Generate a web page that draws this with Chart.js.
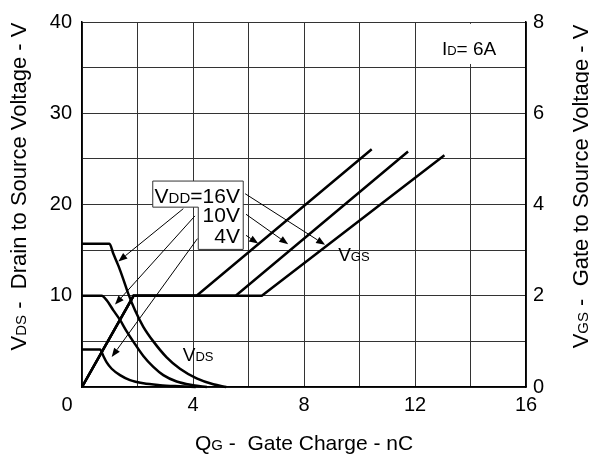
<!DOCTYPE html>
<html>
<head>
<meta charset="utf-8">
<title>Gate Charge</title>
<script src="https://cdn.jsdelivr.net/npm/chart.js@4.4.1/dist/chart.umd.min.js"></script>
<style>
  html, body { margin: 0; padding: 0; background: #fff; }
  #wrap { width: 589px; height: 458px; position: relative; }
</style>
</head>
<body>
<div id="wrap"><canvas id="qgChart"></canvas></div>
<script>
/* =========================
   DATA
========================= */
const qgTicks = [0, 4, 8, 12, 16];
const vdsTicks = [10, 20, 30, 40];
const vgsTicks = [0, 2, 4, 6, 8];

// VDS vs Qg, per VDD
const qgVds16 = [0, 0.99, 1.13, 1.31, 1.49, 1.67, 1.91, 2.21, 2.57, 3.05, 3.53, 4.13, 4.73, 5.2];
const vds16   = [15.7, 15.7, 14.6, 13.3, 11.8, 10.2, 8.4, 6.6, 5.0, 3.25, 2.0, 0.95, 0.3, 0];
const qgVds10 = [0, 0.71, 0.89, 1.13, 1.37, 1.61, 1.91, 2.21, 2.57, 2.93, 3.41, 4.0, 4.5];
const vds10   = [10, 10, 9.5, 8.4, 7.35, 6.1, 4.7, 3.4, 2.2, 1.3, 0.6, 0.2, 0];
const qgVds4  = [0, 0.65, 0.77, 0.89, 1.07, 1.37, 1.73, 2.21, 2.81, 3.5, 4.1];
const vds4    = [4.1, 4.1, 3.4, 2.7, 2.0, 1.3, 0.75, 0.4, 0.2, 0.08, 0];

// VGS vs Qg, per VDD (right axis)
const qgVgs4  = [0, 1.86, 4.13, 10.44];
const vgs4    = [0, 2, 2, 5.21];
const qgVgs10 = [0, 1.86, 5.54, 11.75];
const vgs10   = [0, 2, 2, 5.16];
const qgVgs16 = [0, 1.86, 6.48, 13.06];
const vgs16   = [0, 2, 2, 5.08];

/* =========================
   NOTES (positions in data units, left axis)
========================= */
const notes = {
  idBox: [12.5, 35.4, 15.7, 39.8],
  idText: [12.97, 36.4],
  legendBox: [[2.55, 22.57], [5.81, 22.57], [5.81, 15.08], [4.19, 15.08], [4.19, 19.71], [2.55, 19.71]],
  legendRight: 5.69,
  legendRows: [20.18, 18.04, 15.83],
  vgsArrows: [[5.88, 21.18, 8.76, 15.58], [5.91, 18.93, 7.43, 15.65], [5.91, 16.62, 6.35, 15.72]],
  vdsArrows: [[3.65, 19.54, 1.31, 13.76], [4.07, 18.75, 1.19, 9.03], [4.16, 16.26, 1.07, 3.29]],
  vgsLabel: [9.23, 13.8],
  vdsLabel: [3.63, 2.8]
};

const FONT = '"Liberation Sans", Arial, sans-serif';

const pts = (xs, ys) => xs.map((x, i) => ({ x: x, y: ys[i] }));

function line(data, axis, smooth) {
  return {
    data: data,
    yAxisID: axis,
    showLine: true,
    borderColor: '#000',
    borderWidth: 2.5,
    pointRadius: 0,
    fill: false,
    clip: 3,
    cubicInterpolationMode: smooth ? 'monotone' : 'default'
  };
}

// text with subscript pieces: [[text, isSub], ...]
function subText(ctx, parts, x, y, size, align) {
  const subSize = Math.round(size * 0.7);
  let w = 0;
  parts.forEach(([t, s]) => {
    ctx.font = (s ? subSize : size) + 'px ' + FONT;
    w += ctx.measureText(t).width;
  });
  let cx = align === 'center' ? x - w / 2 : align === 'right' ? x - w : x;
  ctx.textAlign = 'left';
  ctx.textBaseline = 'alphabetic';
  parts.forEach(([t, s]) => {
    ctx.font = (s ? subSize : size) + 'px ' + FONT;
    ctx.fillText(t, cx, y);
    cx += ctx.measureText(t).width;
  });
}

function arrow(ctx, x1, y1, x2, y2) {
  const a = Math.atan2(y2 - y1, x2 - x1);
  const len = 9, hw = 3.5;
  const bx = x2 - Math.cos(a) * len, by = y2 - Math.sin(a) * len;
  ctx.beginPath();
  ctx.moveTo(x1, y1);
  ctx.lineTo(bx, by);
  ctx.stroke();
  ctx.beginPath();
  ctx.moveTo(x2, y2);
  ctx.lineTo(bx + hw * Math.sin(a), by - hw * Math.cos(a));
  ctx.lineTo(bx - hw * Math.sin(a), by + hw * Math.cos(a));
  ctx.closePath();
  ctx.fill();
}

/* =========================
   ANNOTATION PLUGIN
========================= */
const notesPlugin = {
  id: 'notes',
  beforeDatasetsDraw(chart) {
    const ctx = chart.ctx;
    const sx = chart.scales.x, sy = chart.scales.y;
    const X = v => sx.getPixelForValue(v), Y = v => sy.getPixelForValue(v);
    ctx.save();
    ctx.fillStyle = '#fff';
    const b = notes.idBox;
    ctx.fillRect(X(b[0]), Y(b[3]), X(b[2]) - X(b[0]), Y(b[1]) - Y(b[3]));

    ctx.beginPath();
    notes.legendBox.forEach((p, i) => i ? ctx.lineTo(X(p[0]), Y(p[1])) : ctx.moveTo(X(p[0]), Y(p[1])));
    ctx.closePath();
    ctx.fill();
    ctx.strokeStyle = '#333';
    ctx.lineWidth = 1;
    ctx.stroke();
    ctx.restore();
  },
  afterDatasetsDraw(chart) {
    const ctx = chart.ctx;
    const sx = chart.scales.x, sy = chart.scales.y;
    const X = v => sx.getPixelForValue(v), Y = v => sy.getPixelForValue(v);
    const area = chart.chartArea;
    ctx.save();
    ctx.fillStyle = '#000';
    ctx.strokeStyle = '#000';
    ctx.lineWidth = 1;

    notes.vgsArrows.concat(notes.vdsArrows).forEach(a => arrow(ctx, X(a[0]), Y(a[1]), X(a[2]), Y(a[3])));

    const lr = X(notes.legendRight);
    subText(ctx, [['V', 0], ['DD', 1], ['=16V', 0]], lr, Y(notes.legendRows[0]), 21, 'right');
    subText(ctx, [['10V', 0]], lr, Y(notes.legendRows[1]), 21, 'right');
    subText(ctx, [['4V', 0]], lr, Y(notes.legendRows[2]), 21, 'right');

    subText(ctx, [['I', 0], ['D', 1], ['= 6A', 0]], X(notes.idText[0]), Y(notes.idText[1]), 19, 'left');
    subText(ctx, [['V', 0], ['GS', 1]], X(notes.vgsLabel[0]), Y(notes.vgsLabel[1]), 19, 'left');
    subText(ctx, [['V', 0], ['DS', 1]], X(notes.vdsLabel[0]), Y(notes.vdsLabel[1]), 19, 'left');

    // the shared origin label sits left of the corner
    ctx.font = '20px ' + FONT;
    ctx.textAlign = 'center';
    ctx.textBaseline = 'middle';
    ctx.fillText(String(qgTicks[0]), area.left - 15, area.bottom + 18);

    // axis titles
    const midY = (area.top + area.bottom) / 2 - 18;
    subText(ctx, [['Q', 0], ['G', 1], [' -  Gate Charge - nC', 0]], (area.left + area.right) / 2, 450, 21, 'center');

    ctx.translate(26, midY);
    ctx.rotate(-Math.PI / 2);
    subText(ctx, [['V', 0], ['DS', 1], [' -  Drain to Source Voltage - V', 0]], 0, 0, 22, 'center');
    ctx.rotate(Math.PI / 2);
    ctx.translate(-26, -midY);

    ctx.translate(588, midY);
    ctx.rotate(-Math.PI / 2);
    subText(ctx, [['V', 0], ['GS', 1], [' -  Gate to Source Voltage - V', 0]], 0, 0, 22, 'center');
    ctx.restore();
  }
};

/* =========================
   CHART
========================= */
document.addEventListener('DOMContentLoaded', () => {
  Chart.defaults.font.family = FONT;
  Chart.defaults.color = '#000';

  new Chart(document.getElementById('qgChart'), {
    type: 'scatter',
    data: {
      datasets: [
        line(pts(qgVds16, vds16), 'y', true),
        line(pts(qgVds10, vds10), 'y', true),
        line(pts(qgVds4, vds4), 'y', true),
        line(pts(qgVgs4, vgs4), 'yR', false),
        line(pts(qgVgs10, vgs10), 'yR', false),
        line(pts(qgVgs16, vgs16), 'yR', false)
      ]
    },
    options: {
      responsive: true,
      maintainAspectRatio: false,
      animation: false,
      layout: { padding: { top: 13, left: 0, right: 0, bottom: 0 } },
      plugins: { legend: { display: false }, tooltip: { enabled: false } },
      scales: {
        x: {
          type: 'linear', min: 0, max: 16,
          grid: { color: '#333', lineWidth: 1, drawTicks: false },
          border: { color: '#000', width: 1.5 },
          ticks: {
            stepSize: 2, padding: 6, maxRotation: 0,
            font: { size: 20 },
            callback: v => (v !== qgTicks[0] && qgTicks.includes(v)) ? v : ''
          },
          afterFit: s => { s.height = 71; }
        },
        y: {
          position: 'left', min: 0, max: 40,
          grid: { color: '#333', lineWidth: 1, drawTicks: false },
          border: { color: '#000', width: 1.5 },
          ticks: {
            stepSize: 5, padding: 10,
            font: { size: 20 },
            callback: v => vdsTicks.includes(v) ? v : ''
          },
          afterFit: s => { s.width = 82; }
        },
        yR: {
          position: 'right', min: 0, max: 8,
          grid: { display: false, drawTicks: false },
          border: { color: '#000', width: 1.5 },
          ticks: {
            stepSize: 2, padding: 7,
            font: { size: 20 },
            callback: v => vgsTicks.includes(v) ? v : ''
          },
          afterFit: s => { s.width = 63; }
        }
      }
    },
    plugins: [notesPlugin]
  });
});
</script>
</body>
</html>
